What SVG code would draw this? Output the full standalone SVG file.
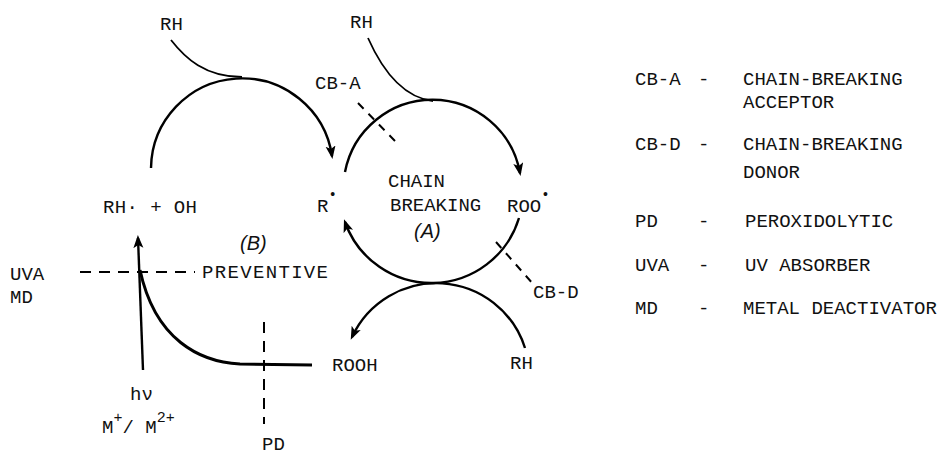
<svg xmlns="http://www.w3.org/2000/svg" width="947" height="456" viewBox="0 0 947 456">
<style>
text{font-family:"Liberation Mono","DejaVu Sans Mono",monospace;font-size:19px;fill:#111}
.hw{font-family:"Liberation Sans",Arial,sans-serif;font-style:italic;font-size:20px}
.ln{fill:none;stroke:#000;stroke-width:2.4}
.thin{fill:none;stroke:#000;stroke-width:1.8}
.dash{fill:none;stroke:#000;stroke-width:2;stroke-dasharray:11 8}
.lg{fill:#222}
</style>
<defs>
<marker id="ah" markerUnits="userSpaceOnUse" markerWidth="14" markerHeight="12" refX="10" refY="5" orient="auto">
<path d="M0,0 L13,5 L0,10 L3,5 z" fill="#000"/>
</marker>
</defs>
<g id="connectors">
<path class="thin" d="M171,40 C185,58 205,77 242,77"/>
<path class="ln" d="M151,168 A91,91 0 0 1 332,156" marker-end="url(#ah)"/>
<path class="thin" d="M368,38 C380,65 400,97 433,101"/>
<path class="ln" d="M345,172 A89,89 0 0 1 520,173" marker-end="url(#ah)"/>
<path class="ln" d="M519,218 A91.6,91.6 0 0 1 345,222" marker-end="url(#ah)"/>
<path class="ln" d="M525,348 A93,93 0 0 0 352,337" marker-end="url(#ah)"/>
<path class="ln" d="M143,370 L138,238" marker-end="url(#ah)"/>
<path class="ln" style="stroke-width:3" d="M312,365 L240,364 C200,362 155,340 140,270"/>
<path class="dash" d="M80,272 H195"/>
<path class="dash" d="M264,322 V424"/>
<path class="dash" style="stroke-dasharray:8 7" d="M358,103 L397,143"/>
<path class="dash" style="stroke-dasharray:8 7" d="M496,242 L534,285"/>
</g>
<g id="node-rh-top-left"><text x="160" y="30">RH</text></g>
<g id="node-rh-top-right"><text x="350" y="28">RH</text></g>
<g id="node-cba"><text x="315" y="89">CB-A</text></g>
<g id="node-chain-breaking"><text x="388" y="187">CHAIN</text><text x="390" y="211">BREAKING</text><text class="hw" x="414" y="238">(A)</text></g>
<g id="node-r"><text x="317" y="212">R<tspan font-size="14" dy="-13">•</tspan></text></g>
<g id="node-roo"><text x="507" y="212">ROO<tspan font-size="14" dy="-13">•</tspan></text></g>
<g id="node-rh-oh"><text x="103" y="213" textLength="94">RH· + OH</text></g>
<g id="node-preventive"><text class="hw" x="240" y="250">(B)</text><text x="202" y="278" textLength="126">PREVENTIVE</text></g>
<g id="node-uva-md"><text x="10" y="280">UVA</text><text x="10" y="303">MD</text></g>
<g id="node-hv"><text x="130" y="400">hν</text><text x="102" y="433">M<tspan font-size="15" dy="-11">+</tspan><tspan dy="11">/ M</tspan><tspan font-size="15" dy="-11">2+</tspan></text></g>
<g id="node-pd"><text x="262" y="450">PD</text></g>
<g id="node-rooh"><text x="332" y="371">ROOH</text></g>
<g id="node-rh-bottom"><text x="510" y="369">RH</text></g>
<g id="node-cbd"><text x="533" y="298">CB-D</text></g>
<g id="legend" class="lg">
<text x="635" y="85">CB-A</text><text x="698" y="85">-</text><text x="743" y="85">CHAIN-BREAKING</text><text x="743" y="108">ACCEPTOR</text>
<text x="635" y="150">CB-D</text><text x="698" y="150">-</text><text x="743" y="150">CHAIN-BREAKING</text><text x="743" y="178">DONOR</text>
<text x="635" y="227">PD</text><text x="698" y="227">-</text><text x="745" y="227">PEROXIDOLYTIC</text>
<text x="635" y="271">UVA</text><text x="698" y="271">-</text><text x="745" y="271">UV ABSORBER</text>
<text x="635" y="314">MD</text><text x="698" y="314">-</text><text x="743" y="314">METAL DEACTIVATOR</text>
</g>
</svg>
